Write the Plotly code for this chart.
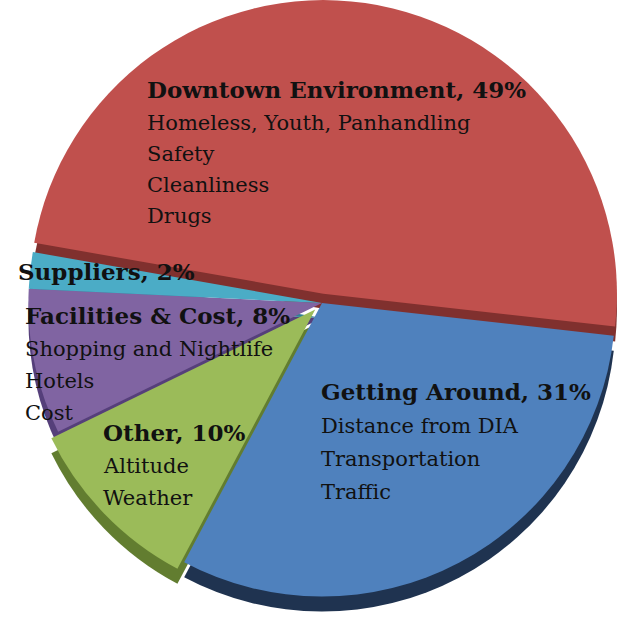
import plotly.graph_objects as go

# ---- data ----
categories = ["Downtown Environment", "Getting Around", "Other", "Facilities & Cost", "Suppliers"]
shares = [49, 31, 10, 8, 2]
sub_items = [
    ["Homeless, Youth, Panhandling", "Safety", "Cleanliness", "Drugs"],
    ["Distance from DIA", "Transportation", "Traffic"],
    ["Altitude", "Weather"],
    ["Shopping and Nightlife", "Hotels", "Cost"],
    [],
]

# ---- style ----
top_colors = ["#C0504D", "#4F81BD", "#9BBB59", "#8064A2", "#4BACC6"]
side_colors = ["#80302E", "#1F3350", "#627D30", "#553F7A", "#2E7F96"]
pulls = [0.032, 0.0, 0.032, 0.0, 0.0]

W, H = 629, 621
label_pos = [(145, 90), (319, 391), (101, 432), (23, 315), (16, 272)]
line_gap = [31, 33, 32, 32, 31]
title_size = 23
item_size = 21
FONT = "DejaVu Serif"

def clamp(v):
    return max(0.0, min(1.0, v))

def dom(cx, cy, r):
    return dict(x=[clamp((cx - r) / W), clamp((cx + r) / W)],
                y=[clamp(1 - (cy + r) / H), clamp(1 - (cy - r) / H)])

fig = go.Figure()
depth = 15
cx, cy, R = 322, 303, 303
fig.add_trace(go.Pie(
    labels=categories, values=shares, sort=False, direction="clockwise", rotation=-80,
    pull=pulls, marker=dict(colors=side_colors, line=dict(width=0)),
    textinfo="none", hoverinfo="skip", showlegend=False,
    domain=dom(cx, cy + depth, R),
))
fig.add_trace(go.Pie(
    labels=categories, values=shares, sort=False, direction="clockwise", rotation=-80,
    pull=pulls, marker=dict(colors=top_colors, line=dict(width=0)),
    textinfo="none", hovertemplate="%{label}: %{value}%<extra></extra>", showlegend=False,
    domain=dom(cx, cy, R),
))

annotations = []
for cat, val, items, (lx, ly), gap in zip(categories, shares, sub_items, label_pos, line_gap):
    annotations.append(dict(
        text=f"<b>{cat}, {val}%</b>", x=lx / W, y=1 - ly / H, xref="paper", yref="paper",
        xanchor="left", yanchor="middle", showarrow=False,
        font=dict(family=FONT, size=title_size, color="#111111"),
    ))
    for i, it in enumerate(items):
        annotations.append(dict(
            text=it, x=lx / W, y=1 - (ly + gap * (i + 1) + 2) / H, xref="paper", yref="paper",
            xanchor="left", yanchor="middle", showarrow=False,
            font=dict(family=FONT, size=item_size, color="#111111"),
        ))

fig.update_layout(
    width=W, height=H, margin=dict(l=0, r=0, t=0, b=0),
    paper_bgcolor="white", plot_bgcolor="white",
    annotations=annotations,
)
fig.write_html("out.html", config={"displayModeBar": False},
               post_script="document.body.style.margin='0';")
